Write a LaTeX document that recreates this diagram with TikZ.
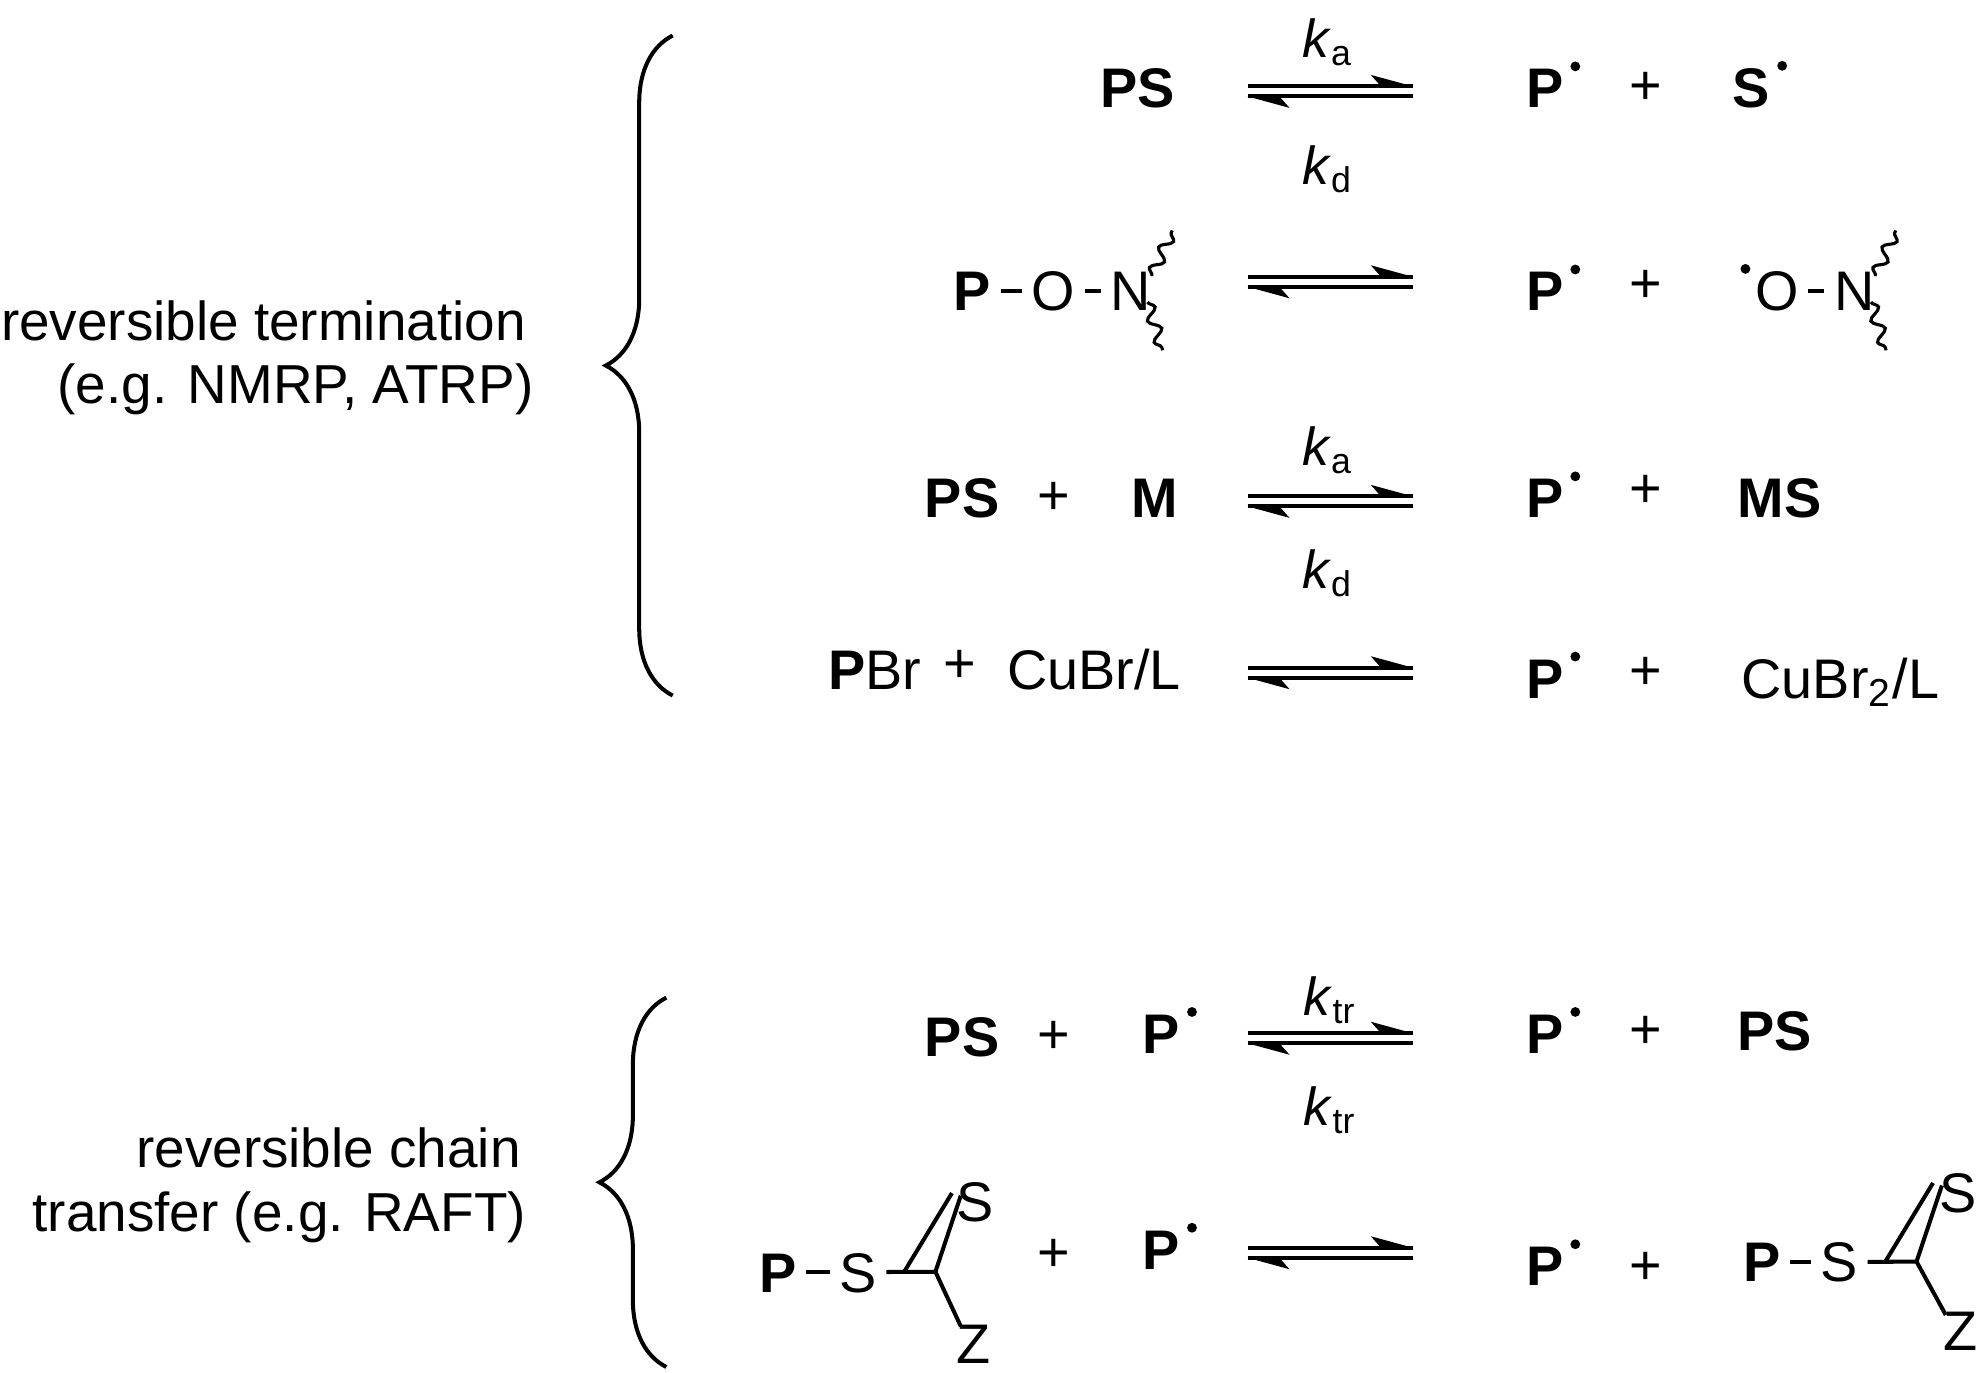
\documentclass[tikz,border=0pt]{standalone}
\usepackage{fontspec}
\setmainfont{Liberation Sans}
\usetikzlibrary{decorations.pathmorphing,decorations.pathreplacing}
\begin{document}
\begin{tikzpicture}[x=0.01cm,y=-0.01cm,
 chem/.style={font=\fontsize{12.5}{14}\selectfont,inner sep=0pt,anchor=base},
 lab/.style={font=\fontsize{12.3}{14}\selectfont,inner sep=0pt,anchor=base east},
 kk/.style={font=\fontsize{12}{14}\selectfont,inner sep=0pt},
 bond/.style={line width=0.9pt},
 squig/.style={line width=0.7pt,decorate,decoration={snake,segment length=5pt,amplitude=1.3pt}},
 brace/.style={line width=0.9pt,decorate,decoration={brace,amplitude=15pt,aspect=0.5}},
 eq/.pic={\draw[line width=0.9pt] (-65,-4)--(65,-4); \fill (65,-4)--(32,-13)--(40,-4)--cycle;
          \draw[line width=0.9pt] (-65,4)--(65,4); \fill (-65,4)--(-32,13)--(-40,4)--cycle;}]
\useasboundingbox (0,0) rectangle (1560,1081);
\newcommand{\rad}[1]{\fill ([xshift=2.5pt,yshift=0.5pt]#1.north east) circle (1.1pt);}
\newcommand{\hbond}[2]{\draw[bond] ([xshift=2pt,yshift=4.5pt]#1.base east) -- ([xshift=-2pt,yshift=4.5pt]#2.base west);}
% braces
\draw[brace] (530,548) -- (530,28) node[coordinate] (b1) {};
\draw[brace] (525,1077) -- (525,786) node[coordinate] (b2) {};
\node[lab] (t1) at (415,268) {reversible termination};
\node[lab] (t2) at (421,318) {(e.g. NMRP, ATRP)};
\node[lab] (t3) at (411,920) {reversible chain};
\node[lab] (t4) at (415,970) {transfer (e.g. RAFT)};
% row1
\node[chem,anchor=base east] (ps1) at (926,85) {\textbf{PS}};
\pic at (1048,72) {eq};
\node[kk] (ka1) at (1046,33) {\textit{k}\textsubscript{a}};
\node[kk] (kd1) at (1046,133) {\textit{k}\textsubscript{d}};
\node[chem] (p1) at (1217,85) {\textbf{P}}; \rad{p1}
\node[chem] (pl1) at (1297,82) {+};
\node[chem] (s1) at (1380,85) {\textbf{S}}; \rad{s1}
% row2
\node[chem] (p2) at (766,245) {\textbf{P}};
\node[chem] (o2) at (830,245) {O};
\node[chem] (n2) at (891,245) {N};
\hbond{p2}{o2}
\hbond{o2}{n2}
\draw[squig] ([xshift=0pt,yshift=-1pt]n2.north east) -- +(16,-36);
\draw[squig] ([xshift=-1pt,yshift=2pt]n2.base east) -- +(12,38);
\pic at (1048,222) {eq};
\node[chem] (p2r) at (1217,245) {\textbf{P}}; \rad{p2r}
\node[chem] (pl2) at (1297,238) {+};
\node[chem] (o2r) at (1400,245) {O};
\fill ([xshift=-2pt,yshift=0.5pt]o2r.north west) circle (1.1pt);
\node[chem] (n2r) at (1461,245) {N};
\hbond{o2r}{n2r}
\draw[squig] ([xshift=0pt,yshift=-1pt]n2r.north east) -- +(16,-36);
\draw[squig] ([xshift=-1pt,yshift=2pt]n2r.base east) -- +(12,38);
% row3
\node[chem] (ps3) at (758,408) {\textbf{PS}};
\node[chem] (pl3) at (830,405) {+};
\node[chem] (m3) at (910,408) {\textbf{M}};
\pic at (1048,395) {eq};
\node[kk] (ka3) at (1046,355) {\textit{k}\textsubscript{a}};
\node[kk] (kd3) at (1046,452) {\textit{k}\textsubscript{d}};
\node[chem] (p3) at (1217,408) {\textbf{P}}; \rad{p3}
\node[chem] (pl3r) at (1297,400) {+};
\node[chem] (ms3) at (1402,408) {\textbf{MS}};
% row4
\node[chem] (pbr) at (689,543) {\textbf{P}Br};
\node[chem] (pl4) at (756,538) {+};
\node[chem] (cu4) at (862,543) {CuBr/L};
\pic at (1048,530) {eq};
\node[chem] (p4) at (1217,550) {\textbf{P}}; \rad{p4}
\node[chem] (pl4r) at (1297,543) {+};
\node[chem] (cu4r) at (1450,550) {CuBr\textsubscript{2}/L};
% row5
\node[chem] (ps5) at (758,832) {\textbf{PS}};
\node[chem] (pl5) at (830,830) {+};
\node[chem] (p5) at (915,830) {\textbf{P}}; \rad{p5}
\pic at (1048,818) {eq};
\node[kk] (kt1) at (1048,788) {\textit{k}\textsubscript{tr}};
\node[kk] (kt2) at (1048,875) {\textit{k}\textsubscript{tr}};
\node[chem] (p5r) at (1217,830) {\textbf{P}}; \rad{p5r}
\node[chem] (pl5r) at (1297,826) {+};
\node[chem] (ps5r) at (1398,828) {\textbf{PS}};
% row6 left
\node[chem] (p6) at (613,1018) {\textbf{P}};
\node[chem] (s6) at (676,1018) {S};
\coordinate (c6) at (737,1002);
\node[chem] (s6u) at (768,962) {S};
\node[chem] (z6) at (767,1074) {Z};
\hbond{p6}{s6}
\draw[bond] ([xshift=2pt,yshift=4.5pt]s6.base east) -- (c6);
\draw[bond] (c6) -- (757,942);
\draw[bond] ([xshift=-7]c6) -- (750,940);
\draw[bond] (c6) -- (757,1045);
\node[chem] (pl6) at (830,1002) {+};
\node[chem] (p6b) at (915,1000) {\textbf{P}}; \rad{p6b}
\pic at (1048,987) {eq};
\node[chem] (p6r) at (1217,1013) {\textbf{P}}; \rad{p6r}
\node[chem] (pl6r) at (1297,1012) {+};
\node[chem] (p6rr) at (1388,1010) {\textbf{P}};
\node[chem] (s6r) at (1449,1010) {S};
\coordinate (c6r) at (1510,994);
\node[chem] (s6ru) at (1543,955) {S};
\node[chem] (z6r) at (1545,1064) {Z};
\hbond{p6rr}{s6r}
\draw[bond] ([xshift=2pt,yshift=4.5pt]s6r.base east) -- (c6r);
\draw[bond] (c6r) -- (1530,934);
\draw[bond] ([xshift=-7]c6r) -- (1523,932);
\draw[bond] (c6r) -- (1533,1036);
\end{tikzpicture}
\end{document}
